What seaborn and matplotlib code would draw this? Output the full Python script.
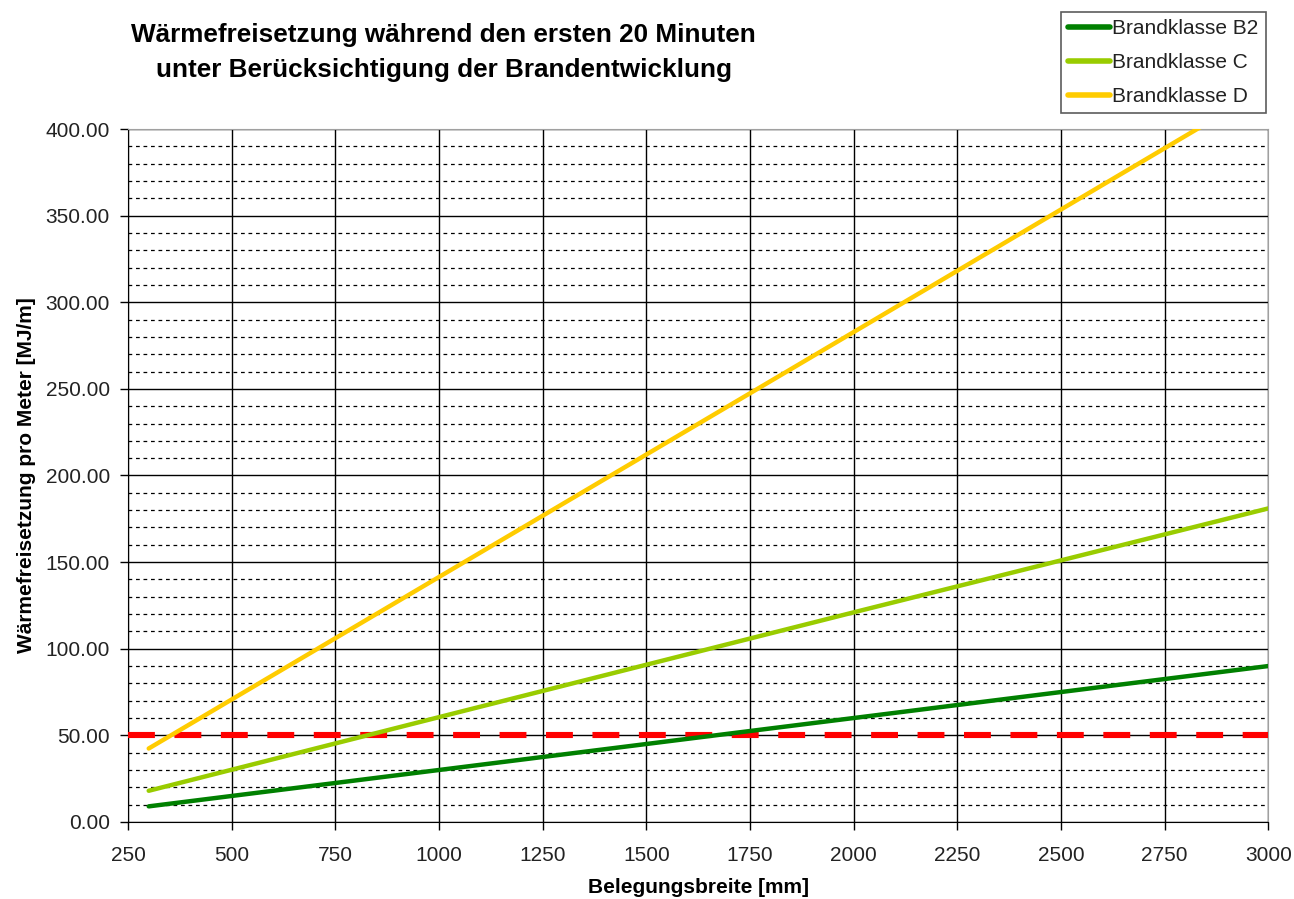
import numpy as np
import pandas as pd
import seaborn as sns
import matplotlib.pyplot as plt
from matplotlib.ticker import MultipleLocator

# values
breite = [300, 1000, 2000, 3000]
b2 = [9.0, 30.0, 60.0, 90.0]
klasse_c = [18.0, 60.5, 121.0, 181.0]
klasse_d = [42.4, 141.4, 282.8, 424.3]
grenzwert = 50.0
serien = ["Brandklasse B2", "Brandklasse C", "Brandklasse D"]
farben = ["#008000", "#99CC00", "#FFCC00"]

df = pd.DataFrame({
    "Belegungsbreite": breite * 3,
    "Wert": b2 + klasse_c + klasse_d,
    "Serie": [serien[0]] * 4 + [serien[1]] * 4 + [serien[2]] * 4,
})

sns.set_style("white")
plt.rcParams['font.family'] = ['Liberation Sans', 'DejaVu Sans']

fig = plt.figure(figsize=(12.94, 8.99), dpi=100)
ax = fig.add_axes([0.0989, 0.0857, 0.8813, 0.7708])

# grid first
ax.yaxis.set_major_locator(MultipleLocator(50))
ax.yaxis.set_minor_locator(MultipleLocator(10))
ax.xaxis.set_major_locator(MultipleLocator(250))
ax.grid(which="major", axis="both", color="black", lw=1.0, ls="-")
ax.grid(which="minor", axis="y", color="black", lw=0.9, ls=(0, (3, 3)))
ax.set_axisbelow(True)

ax.plot([250, 3000], [grenzwert, grenzwert], color="#FF0000", lw=4.4,
        ls=(0, (4.4, 3.2)), zorder=3, solid_capstyle="butt")

sns.lineplot(data=df, x="Belegungsbreite", y="Wert", hue="Serie",
             palette=farben, lw=3.2, ax=ax, zorder=4, legend=False)

ax.set_xlim(250, 3000)
ax.set_ylim(0, 400)
ax.yaxis.set_major_formatter(plt.FuncFormatter(lambda v, p: f"{v:.2f}"))
ax.tick_params(axis="both", which="major", direction="out", length=6,
               width=1, color="black", labelsize=15, labelcolor="#222222",
               left=True, bottom=True)
ax.tick_params(axis="x", which="major", pad=11)
ax.tick_params(axis="y", which="major", pad=7)
ax.tick_params(which="minor", left=False)
for s in ax.spines.values():
    s.set_color("#A0A0A0")
ax.spines["left"].set_color("black")
ax.spines["bottom"].set_color("black")

ax.set_xlabel("Belegungsbreite [mm]", fontsize=15, fontweight="bold",
              labelpad=10, color="black")
ax.set_ylabel("Wärmefreisetzung pro Meter [MJ/m]", fontsize=15,
              fontweight="bold", labelpad=7, color="black")

fig.text(0.343, 0.9416, "Wärmefreisetzung während den ersten 20 Minuten\n"
         "unter Berücksichtigung der Brandentwicklung",
         ha="center", va="center", fontsize=18.8, fontweight="bold",
         linespacing=1.55, color="black")

handles = [plt.Line2D([], [], color=c, lw=4) for c in farben]
leg = fig.legend(handles, serien, loc="upper right",
                 bbox_to_anchor=(0.978, 0.987), fontsize=15,
                 frameon=True, fancybox=False, handlelength=2.0,
                 handletextpad=0.1, borderpad=0.35, labelspacing=0.72,
                 borderaxespad=0)
leg.get_frame().set_edgecolor("#333333")
leg.get_frame().set_linewidth(1.2)
for t in leg.get_texts():
    t.set_color("#222222")

fig.savefig("out.png", dpi=100)
